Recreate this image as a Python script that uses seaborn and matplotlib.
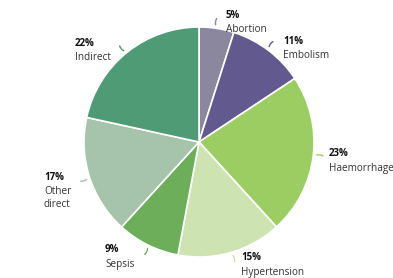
import numpy as np
import matplotlib
matplotlib.use("Agg")
import matplotlib.pyplot as plt
import seaborn as sns

# data, clockwise from 12 o'clock
causes = ["Abortion", "Embolism", "Haemorrhage", "Hypertension", "Sepsis", "Other\ndirect", "Indirect"]
shares = [5, 11, 23, 15, 9, 17, 22]
colours = ["#8a879f", "#625a8e", "#9ccd63", "#cde4b2", "#6cae5a", "#a6c4ac", "#4f9b76"]

# label anchor positions in pixel coords (x, y from top)
label_pos = [(226, 16), (283, 41), (329, 154), (241, 258), (105, 250), (44, 177), (75, 43)]

sns.set_theme(style="white")
plt.rcParams["font.family"] = ["Open Sans", "DejaVu Sans"]

W, H = 393, 278
fig = plt.figure(figsize=(W / 100, H / 100), dpi=100)
ax = fig.add_axes([0, 0, 1, 1])
ax.set_aspect("equal")
ax.axis("off")

cx, cy, R = 199, H - 142, 115
wedges, _ = ax.pie(shares, colors=sns.color_palette(colours), startangle=90,
                   counterclock=False, center=(cx, cy), radius=R,
                   wedgeprops=dict(edgecolor="white", linewidth=1.2))
ax.set_xlim(0, W)
ax.set_ylim(0, H)

for w, name, val, col, (lx, ly) in zip(wedges, causes, shares, colours, label_pos):
    mid = np.deg2rad((w.theta1 + w.theta2) / 2)
    p0 = (cx + (R + 1) * np.cos(mid), cy + (R + 1) * np.sin(mid))
    p1 = (cx + (R + 12) * np.cos(mid), cy + (R + 12) * np.sin(mid))
    ax.annotate("", xy=p0, xytext=p1,
                arrowprops=dict(arrowstyle="-", color=col, lw=1,
                                connectionstyle="arc3,rad=0.4"))
    ax.text(lx, H - ly, f"{val}%", fontsize=7, fontweight="bold",
            color="#111111", va="center", ha="left")
    ax.text(lx, H - ly - 8.5, name, fontsize=7.2, color="#333333",
            va="top", ha="left", linespacing=1.3)

fig.savefig("out.png", dpi=100)
